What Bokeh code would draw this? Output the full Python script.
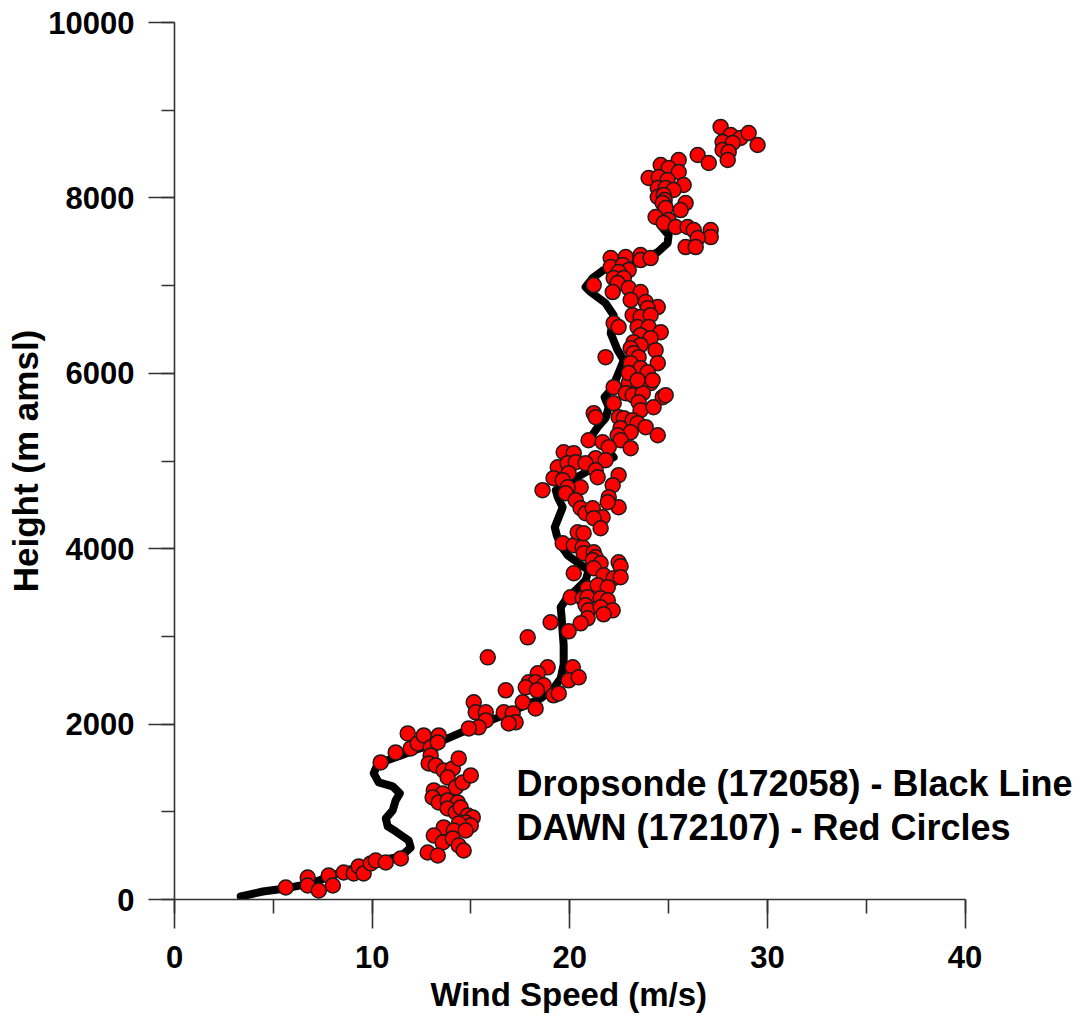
from bokeh.plotting import figure
from bokeh.models import SingleIntervalTicker, Label, Range1d, Title
from bokeh.embed import file_html
from bokeh.resources import INLINE

# Dropsonde (black line): wind speed (m/s), height (m amsl)
sonde_speed = [3.35, 4.47, 5.63, 6.89, 8.41, 9.93, 11.45, 11.95, 11.85, 11.19, 10.79, 10.69,
               11.04, 11.19, 11.40, 11.04, 10.33, 10.08, 10.23, 10.74, 11.45, 12.10, 13.47,
               14.99, 16.50, 17.52, 18.53, 19.18, 19.54, 19.69, 19.69, 19.64, 19.59, 19.54,
               19.84, 20.30, 20.80, 20.95, 20.45, 19.89, 19.54, 19.34, 19.24, 19.44, 19.64,
               19.39, 19.29, 19.89, 20.55, 21.41, 22.22, 21.81, 21.06, 21.41, 21.81, 21.97,
               21.76, 22.07, 22.32, 22.57, 22.73, 22.42, 22.07, 22.22, 21.81, 21.06, 20.80,
               21.16, 21.71, 22.93, 23.84, 24.45, 24.95, 25.00, 24.70]
sonde_height = [34, 91, 126, 183, 308, 422, 491, 593, 673, 776, 833, 924,
                1016, 1130, 1209, 1289, 1335, 1438, 1518, 1586, 1643, 1700, 1803,
                1951, 2088, 2191, 2293, 2408, 2522, 2681, 2898, 3046, 3206, 3332,
                3434, 3526, 3640, 3754, 3834, 3925, 4039, 4153, 4245, 4359, 4473,
                4587, 4667, 4747, 4838, 4952, 5043, 5157, 5271, 5386, 5488, 5614,
                5728, 5808, 5922, 6059, 6150, 6264, 6458, 6663, 6800, 6926, 6983,
                7086, 7177, 7234, 7314, 7382, 7485, 7576, 7656]

# DAWN (red circles): (speed, height) pairs
dawn_pts = [
    (5.63, 137), (6.74, 251), (6.74, 160), (7.30, 103), (7.80, 274), (8.01, 160), (8.56, 308),
    (9.07, 297), (9.32, 377), (9.57, 297), (9.93, 411), (10.18, 445), (10.69, 422), (11.45, 468),
    (10.43, 1563), (11.19, 1677), (11.80, 1894), (11.95, 1723), (12.31, 1780), (12.61, 1871),
    (12.96, 1734), (13.37, 1871), (13.32, 1791), (12.96, 1643), (12.86, 1552), (13.22, 1529),
    (13.62, 1472), (14.08, 1495), (14.38, 1609), (13.82, 1392), (14.23, 1278), (14.58, 1335),
    (14.99, 1415), (13.12, 1244), (13.57, 1209), (13.06, 1164), (13.37, 1107), (13.82, 1130),
    (14.33, 1107), (13.82, 1038), (14.23, 993), (14.48, 1050), (14.84, 958), (15.09, 936),
    (14.73, 879), (14.99, 844), (14.38, 867), (13.62, 822), (14.13, 787), (14.73, 787),
    (13.12, 730), (13.57, 650), (14.08, 696), (14.38, 616), (14.63, 559), (12.81, 536), (13.32, 502),
    (19.64, 4062), (20.20, 4039), (20.65, 4016), (20.70, 3948), (21.21, 3959), (21.31, 3902),
    (21.16, 3868), (21.56, 3834), (22.47, 3845), (22.57, 3800), (21.21, 3777), (21.71, 3697),
    (22.22, 3663), (22.57, 3674), (20.20, 3720), (20.90, 3549), (21.41, 3583), (21.92, 3560),
    (20.04, 3446), (20.65, 3434), (20.90, 3446), (21.56, 3434), (21.92, 3412), (20.80, 3355),
    (20.95, 3297), (21.56, 3332), (22.17, 3297), (21.71, 3252), (20.90, 3206), (20.55, 3149),
    (19.03, 3161), (19.94, 3058), (17.87, 2989), (15.85, 2761), (18.88, 2647), (18.38, 2579),
    (20.15, 2647), (19.94, 2499), (20.45, 2533), (17.92, 2476), (18.27, 2476), (18.68, 2442),
    (17.77, 2419), (18.34, 2385), (16.76, 2385), (19.18, 2328), (19.44, 2350), (17.62, 2248),
    (15.14, 2248), (18.27, 2179), (15.24, 2134), (15.75, 2134), (16.66, 2134), (15.75, 2042),
    (17.11, 2122), (17.26, 2020), (15.39, 1963), (14.89, 1951), (16.91, 2008),
    (22.22, 5842), (22.98, 5888), (23.48, 5865), (24.09, 5888), (22.83, 5773), (23.18, 5751),
    (23.69, 5773), (24.70, 5728), (24.85, 5751), (22.22, 5659), (23.48, 5671), (23.58, 5579),
    (24.24, 5614), (21.21, 5545), (21.31, 5500), (22.47, 5500), (22.73, 5488), (23.18, 5465),
    (23.43, 5431), (23.84, 5386), (22.57, 5374), (23.08, 5328), (24.45, 5294), (22.42, 5294),
    (22.57, 5237), (20.95, 5237), (21.66, 5214), (21.97, 5157), (23.08, 5146), (19.69, 5100),
    (20.20, 5089), (21.31, 5032), (21.81, 5009), (19.39, 4929), (19.89, 4975), (20.30, 4986),
    (20.80, 4975), (21.31, 4895), (22.47, 4838), (19.94, 4861), (21.41, 4815), (19.18, 4804),
    (19.64, 4781), (20.55, 4701), (22.17, 4724), (18.62, 4667), (19.89, 4701), (19.79, 4632),
    (21.97, 4587), (20.30, 4553), (20.55, 4461), (22.47, 4473), (20.80, 4404), (21.16, 4461),
    (21.66, 4359), (21.21, 4347), (20.40, 4187), (20.70, 4176), (21.56, 4233), (21.92, 4530),
    (22.07, 7314), (22.83, 7325), (23.58, 7348), (23.58, 7291), (24.09, 7314), (22.07, 7211),
    (22.67, 7234), (22.98, 7177), (22.47, 7154), (22.22, 7086), (22.73, 7086), (21.21, 7006),
    (22.42, 7029), (22.98, 6972), (22.17, 6926), (23.58, 6926), (23.08, 6835), (23.84, 6812),
    (24.45, 6755), (23.94, 6743), (23.18, 6663), (23.58, 6641), (24.09, 6663), (22.22, 6572),
    (22.47, 6527), (23.43, 6527), (23.99, 6527), (24.60, 6469), (23.58, 6435), (24.09, 6401),
    (23.23, 6355), (23.58, 6321), (23.08, 6287), (24.34, 6264), (21.81, 6184), (23.23, 6230),
    (23.48, 6184), (24.45, 6116), (23.08, 6116), (23.58, 6059), (23.94, 6013), (22.98, 6002),
    (24.19, 5922), (23.43, 5922),
    (27.63, 8809), (28.14, 8717), (28.64, 8683), (29.05, 8740), (29.50, 8603), (27.73, 8637),
    (28.24, 8626), (27.73, 8546), (28.04, 8523), (27.99, 8432), (26.47, 8489), (27.03, 8398),
    (25.51, 8432), (24.60, 8375), (25.00, 8341), (25.51, 8295), (23.99, 8227), (24.50, 8238),
    (24.95, 8204), (25.76, 8147), (24.45, 8113), (24.85, 8113), (25.25, 8090), (24.45, 8010),
    (24.75, 8033), (24.80, 7976), (24.80, 7919),
    (24.70, 7941), (24.85, 7884), (25.86, 7941), (25.61, 7861), (24.34, 7782), (25.00, 7747),
    (24.75, 7713), (25.36, 7668), (25.96, 7668), (26.27, 7633), (27.13, 7633), (27.13, 7553),
    (26.47, 7542), (25.86, 7439), (26.37, 7439),
]
dawn_speed = [p[0] for p in dawn_pts]
dawn_height = [p[1] for p in dawn_pts]

x_label = "Wind Speed (m/s)"
y_label = "Height (m amsl)"
note_lines = ["Dropsonde (172058) - Black Line", "DAWN (172107) - Red Circles"]

X_MIN, X_MAX = 0, 40
Y_MIN, Y_MAX = 0, 10000

FONT = "Liberation Sans"

# The frame runs on past the last tick so that the note is not clipped;
# the axis itself is bounded to 0..40.
LEFT = 174
FRAME_W = 1086 - LEFT
AXIS_W = 790.6
x_end = X_MAX * FRAME_W / AXIS_W

p = figure(width=1086, height=1020, output_backend="svg", toolbar_location=None,
           x_range=Range1d(X_MIN, x_end), y_range=Range1d(Y_MIN, Y_MAX),
           min_border_left=LEFT, min_border_right=0, min_border_top=22, min_border_bottom=121)
p.outline_line_color = None
p.grid.visible = False
p.background_fill_color = "white"
p.border_fill_color = "white"

p.line(sonde_speed, sonde_height, line_color="black", line_width=8,
       line_join="round", line_cap="round")
p.scatter(dawn_speed, dawn_height, marker="circle", size=15, fill_color="#ff0000",
          line_color="#1a1a1a", line_width=1.5)

p.xaxis.ticker = SingleIntervalTicker(interval=10, num_minor_ticks=2)
p.yaxis.ticker = SingleIntervalTicker(interval=2000, num_minor_ticks=2)
p.xaxis.bounds = (X_MIN, X_MAX)

for ax in (p.xaxis[0], p.yaxis[0]):
    ax.axis_line_color = "#333333"
    ax.axis_line_width = 1.6
    ax.major_tick_line_color = "#333333"
    ax.minor_tick_line_color = "#333333"
    ax.major_tick_line_width = 1.6
    ax.minor_tick_line_width = 1.6
    ax.major_tick_in = 0
    ax.minor_tick_in = 0
    ax.major_label_text_font = FONT
    ax.major_label_text_font_style = "bold"
    ax.major_label_text_font_size = "31px"
    ax.major_label_text_color = "black"
    ax.axis_label_text_font = FONT
    ax.axis_label_text_font_style = "bold"
    ax.axis_label_text_color = "black"

p.xaxis.major_tick_out = 29
p.xaxis.minor_tick_out = 14
p.yaxis.major_tick_out = 26
p.yaxis.minor_tick_out = 13
p.xaxis.major_label_standoff = 17
p.yaxis.major_label_standoff = 14
p.yaxis.axis_label = y_label
p.yaxis.axis_label_text_font_size = "35px"
p.yaxis.axis_label_standoff = 0

# x-axis title centred under the 0..40 axis
xt = Title(text=x_label, align="left", offset=256, standoff=6,
           text_font=FONT, text_font_style="bold", text_font_size="33px",
           text_color="black")
p.add_layout(xt, "below")

for i, txt in enumerate(note_lines):
    p.add_layout(Label(x=17.3, y=1323 - 502 * i, text=txt, text_font=FONT,
                       text_font_style="bold", text_font_size="36px", text_color="black",
                       text_baseline="alphabetic"))

open("out.html", "w").write(file_html(p, INLINE))
